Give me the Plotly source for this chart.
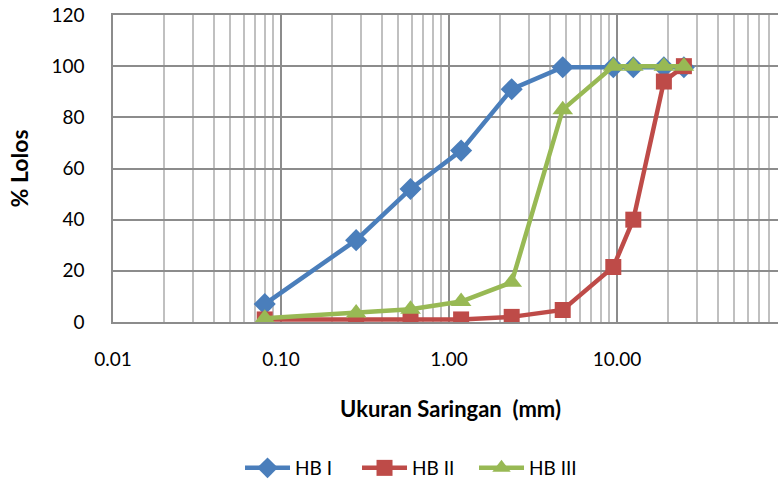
import plotly.graph_objects as go

sieve_mm = [0.08, 0.28, 0.59, 1.18, 2.36, 4.75, 9.5, 12.5, 19, 25]
hb1 = [7, 32, 52, 67, 91, 99.6, 99.6, 99.6, 99.6, 99.6]
hb2 = [1, 1, 1, 1, 2, 4.7, 21.5, 40, 94, 100]
hb3 = [1.5, 3.5, 5, 8, 15.5, 83, 100, 100, 100, 100]

series_names = ["HB I", "HB II", "HB III"]
series_vals = [hb1, hb2, hb3]
colors = ["#4A7EBB", "#BE4B48", "#98B954"]
symbols = ["diamond", "square", "triangle-up"]
sizes = [17, 16, 18]

x_tickvals = [0.01, 0.1, 1, 10]
x_ticktext = ["0.01", "0.10", "1.00", "10.00"]
minor_vals = [k * 10 ** d for d in range(-2, 2) for k in range(2, 10)]

x_title = "Ukuran Saringan\u00a0 (mm)"
y_title = "% Lolos"

FONT = "Lato"
FS = 19

fig = go.Figure()
for name, vals, c, s, sz in zip(series_names, series_vals, colors, symbols, sizes):
    fig.add_trace(go.Scatter(
        x=sieve_mm, y=vals, name=name, mode="lines+markers",
        line=dict(color=c, width=4.5),
        marker=dict(symbol=s, size=sz, color=c),
    ))

fig.add_annotation(text="<b>" + x_title + "</b>", xref="paper", yref="paper",
                   x=0.508, y=-0.283, xanchor="center", yanchor="middle",
                   showarrow=False, font=dict(size=22))

fig.update_layout(
    width=778, height=485,
    margin=dict(l=113, r=0, t=15, b=163, autoexpand=False),
    paper_bgcolor="white", plot_bgcolor="white",
    font=dict(family=FONT, size=FS, color="#000000"),
    showlegend=True,
    legend=dict(orientation="h", x=0.191, xanchor="left", y=-0.4756, yanchor="middle",
                font=dict(size=FS), itemwidth=45, entrywidth=57, tracegroupgap=0),
    xaxis=dict(
        type="log", range=[-2, 1.958],
        tickmode="array", tickvals=x_tickvals, ticktext=x_ticktext,
        showgrid=True, gridcolor="#8C8C8C", gridwidth=1.5,
        minor=dict(tickmode="array", tickvals=minor_vals, showgrid=True,
                   gridcolor="#C0C0C0", gridwidth=1.5, ticks=""),
        showline=True, mirror=True, linecolor="#8C8C8C", linewidth=1.5,
        ticks="", ticklabelstandoff=19, zeroline=False, automargin=False,
        ticklabeloverflow="allow",
    ),
    yaxis=dict(
        range=[0, 120], dtick=20, tick0=0,
        showgrid=True, gridcolor="#8C8C8C", gridwidth=1.5,
        showline=True, linecolor="#8C8C8C", linewidth=1.5,
        ticks="", ticklabelstandoff=23, zeroline=False, automargin=False,
        ticklabeloverflow="allow",
        title=dict(text="<b>" + y_title + "</b>", standoff=16, font=dict(size=23)),
    ),
)

fig.write_html("out.html", config={"displayModeBar": False},
               post_script="document.body.style.margin='0';")
